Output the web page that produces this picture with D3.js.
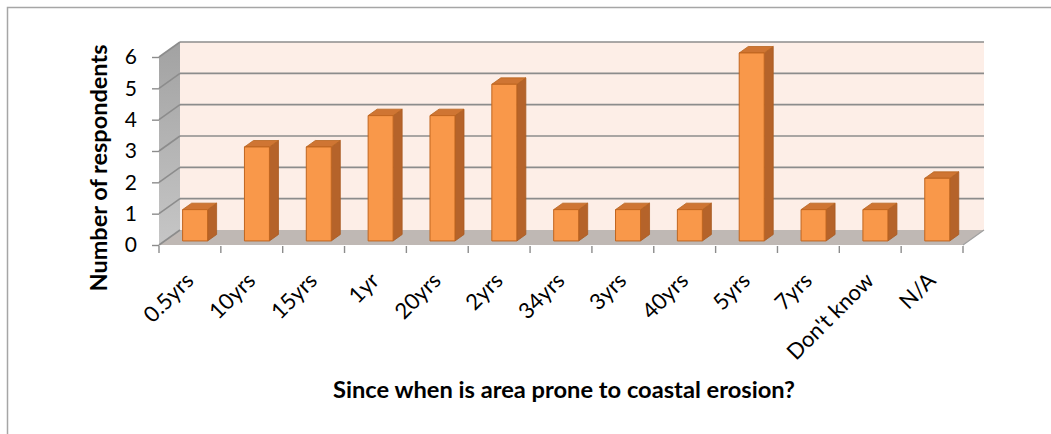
<!DOCTYPE html>
<html><head><meta charset="utf-8">
<script src="https://cdn.jsdelivr.net/npm/d3@7"></script>
<style>
body{margin:0;background:#fff;}
svg{display:block;}
text{font-family:Lato,"Open Sans",sans-serif;fill:#000;}
</style></head>
<body><svg id="c" width="1051" height="434"></svg>
<script>
const categories = ["0.5yrs","10yrs","15yrs","1yr","20yrs","2yrs","34yrs","3yrs","40yrs","5yrs","7yrs","Don't know","N/A"];
const values = [1,3,3,4,4,5,1,1,1,6,1,1,2];
const yTicks = [0,1,2,3,4,5,6];
const xTitle = "Since when is area prone to coastal erosion?";
const yTitle = "Number of respondents";

const svg = d3.select("#c");
const DX = 21, DY = -15;          // depth offset of back wall
const F1 = 0.27, F2 = 0.70;       // bar depth (fraction)
const x = d3.scaleBand().domain(categories).range([159, 963]).paddingInner(0).paddingOuter(0);
const y = d3.scaleLinear().domain([0, 6]).range([245, 57]);
const P = (xf, v, f) => [xf + DX * f, y(v) + DY * f];
const poly = pts => "M" + pts.map(p => p.join(",")).join("L") + "Z";

// outer frame (only left/top visible)
svg.append("rect").attr("x", 7.5).attr("y", 7.5).attr("width", 1200).attr("height", 600)
  .attr("fill", "none").attr("stroke", "#a6a6a6").attr("stroke-width", 1.5);

const x0 = x.range()[0], x1 = x.range()[1];
const defs = svg.append("defs");
const g1 = defs.append("linearGradient").attr("id","side").attr("x1","0").attr("y1","0").attr("x2","0").attr("y2","1");
g1.append("stop").attr("offset","0").attr("stop-color","#a2a2a2");
g1.append("stop").attr("offset","1").attr("stop-color","#c6c6c6");

// back wall
svg.append("path").attr("d", poly([P(x0,0,1),P(x0,6,1),P(x1,6,1),P(x1,0,1)])).attr("fill", "#fdeee7");
// side wall
svg.append("path").attr("d", poly([P(x0,0,0),P(x0,6,0),P(x0,6,1),P(x0,0,1)])).attr("fill", "url(#side)");
// floor
svg.append("path").attr("d", poly([P(x0,0,0),P(x1,0,0),P(x1,0,1),P(x0,0,1)])).attr("fill", "#bfb8b4");

// gridlines
const grid = svg.append("g").attr("stroke", "#8c8c8c").attr("stroke-width", 1.6).attr("fill","none");
yTicks.forEach(v => {
  if (v > 0) grid.append("path").attr("d", "M" + P(x0,v,1).join(",") + "L" + P(x1,v,1).join(","));
  grid.append("path").attr("d", "M" + P(x0,v,0).join(",") + "L" + P(x0,v,1).join(","));
});
svg.append("path").attr("d", "M" + P(x1,0,0).join(",") + "L" + P(x1,0,1).join(","))
  .attr("stroke","#a0a0a0").attr("stroke-width",1.2);

// bars
const bw = x.bandwidth() * 0.404;
const bars = svg.append("g").selectAll("g").data(categories.map((c,i)=>({c, v: values[i]}))).join("g");
bars.each(function(d){
  const g = d3.select(this);
  const cx = x(d.c) + x.bandwidth()/2 - 0.5;
  const xa = cx - bw/2, xb = cx + bw/2;
  g.append("path").attr("d", poly([P(xb,0,F1),P(xb,d.v,F1),P(xb,d.v,F2),P(xb,0,F2)]))
    .attr("fill","#b5632a").attr("stroke","#a85a22").attr("stroke-width",0.8);
  g.append("path").attr("d", poly([P(xa,d.v,F1),P(xb,d.v,F1),P(xb,d.v,F2),P(xa,d.v,F2)]))
    .attr("fill","#cf7533").attr("stroke","#b8641f").attr("stroke-width",0.8);
  g.append("path").attr("d", poly([P(xa,0,F1),P(xa,d.v,F1),P(xb,d.v,F1),P(xb,0,F1)]))
    .attr("fill","#f9984a").attr("stroke","#c0651f").attr("stroke-width",1);
});

// y axis
const ya = svg.append("g").attr("transform", `translate(${x0},0)`)
  .call(d3.axisLeft(y).tickValues(yTicks).tickSize(7).tickPadding(15).tickFormat(d3.format("d")));
ya.select(".domain").remove();
ya.selectAll(".tick line").attr("stroke","#8c8c8c").attr("stroke-width",1.4);
ya.selectAll("text").attr("font-size", 21).style("font-family","Lato");

// x axis boundary ticks
const bounds = categories.map(c => x(c)).concat([x1]);
svg.append("g").selectAll("line").data(bounds).join("line")
  .attr("x1", d => d).attr("x2", d => d).attr("y1", y(0)+1).attr("y2", y(0)+8)
  .attr("stroke","#8c8c8c").attr("stroke-width",1.4);

// x labels
const xa = svg.append("g").attr("transform", `translate(0,${y(0)})`)
  .call(d3.axisBottom(x).tickSize(0).tickPadding(0));
xa.select(".domain").remove();
xa.selectAll(".tick text")
  .attr("font-size", 22).style("font-family","Lato")
  .attr("text-anchor","end").attr("dy", null).attr("y", 0)
  .attr("transform","translate(5,37) rotate(-45)");

// titles
svg.append("text").attr("x", 564).attr("y", 398).attr("text-anchor","middle")
  .attr("font-size", 22).attr("font-weight","bold")
  .attr("textLength", 462).attr("lengthAdjust","spacingAndGlyphs").text(xTitle);
svg.append("text").attr("transform","translate(107,168) rotate(-90)").attr("text-anchor","middle")
  .attr("font-size", 22).attr("font-weight","bold")
  .attr("textLength", 247).attr("lengthAdjust","spacingAndGlyphs").text(yTitle);
</script></body></html>
